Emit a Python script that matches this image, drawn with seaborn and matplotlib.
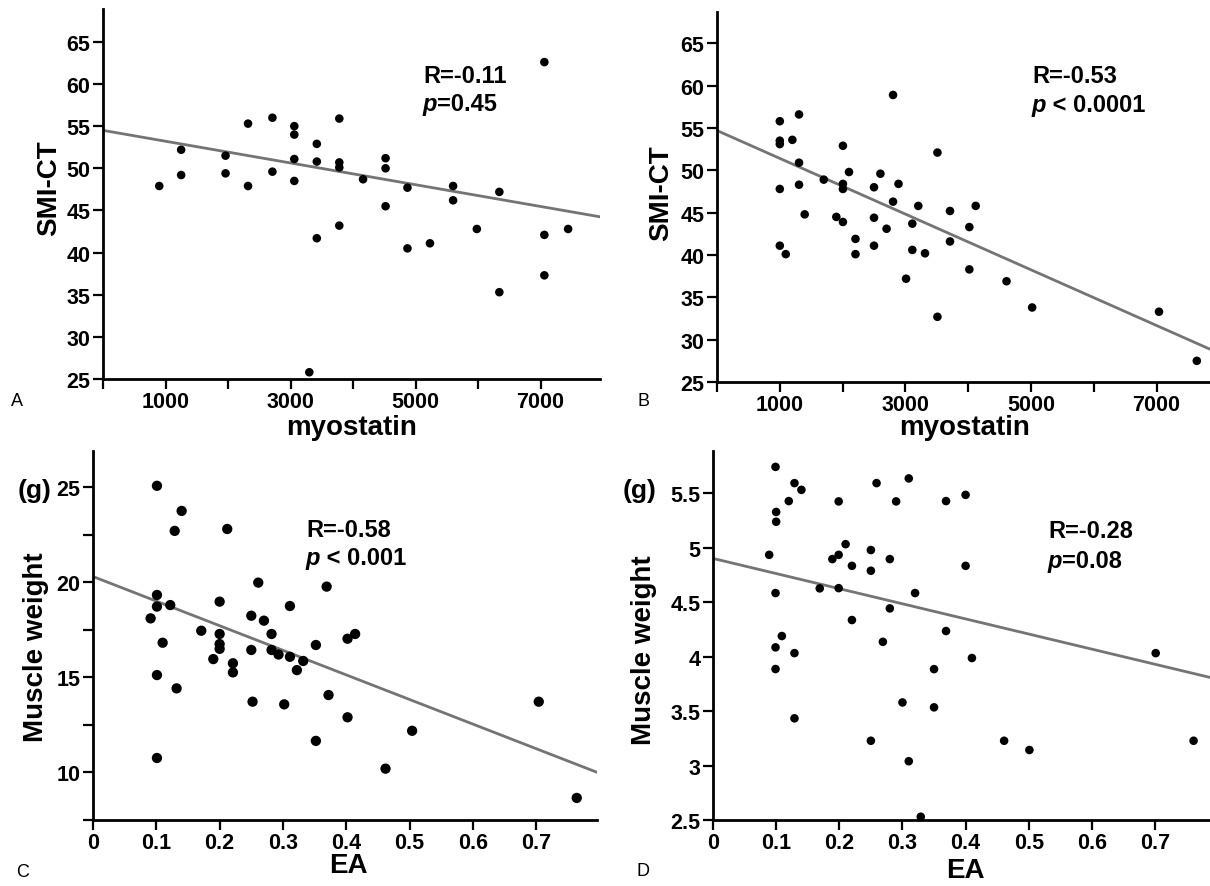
#!/usr/bin/env python3
"""
Myostatin / EA correlation panels (A-D)
Scatter of measured values with the published fit line and R / p annotation
"""

import matplotlib
matplotlib.use("Agg")
import matplotlib.pyplot as plt
from matplotlib.text import Annotation
import seaborn as sns

W, H = 1210, 887

# --- Panel A: myostatin vs SMI-CT (group 1) ---
a_myostatin = [900, 1250, 1250, 1960, 1960, 2320, 2320, 2710, 2710,
               3060, 3060, 3060, 3060, 3300, 3420, 3420, 3420,
               3780, 3780, 3780, 3780, 4160, 4520, 4520, 4520,
               4870, 4870, 5230, 5600, 5600, 5980, 6340, 6340,
               7060, 7060, 7060, 7440]
a_smi = [47.9, 52.2, 49.2, 51.5, 49.4, 55.3, 47.9, 56.0, 49.6,
         55.0, 54.0, 51.1, 48.5, 25.8, 52.9, 50.8, 41.7,
         55.9, 50.7, 50.1, 43.2, 48.7, 51.2, 50.0, 45.5,
         47.7, 40.5, 41.1, 47.9, 46.2, 42.8, 47.2, 35.3,
         62.6, 42.1, 37.3, 42.8]
a_fit = (54.5, -0.00129)          # intercept, slope
a_stats = ("R=-0.11", "=0.45")

# --- Panel B: myostatin vs SMI-CT (group 2) ---
b_myostatin = [1000, 1000, 1000, 1000, 1000, 1095, 1200, 1306, 1306, 1306,
               1396, 1700, 1900, 2005, 2005, 2005, 2005, 2102, 2205, 2205,
               2500, 2500, 2500, 2602, 2700, 2803, 2803, 2890, 3010,
               3110, 3110, 3205, 3312, 3510, 3510, 3710, 3710,
               4018, 4018, 4119, 4610, 5018, 7038, 7640]
b_smi = [55.8, 53.5, 53.1, 47.8, 41.1, 40.1, 53.6, 56.6, 50.9, 48.3,
         44.8, 48.9, 44.5, 52.9, 48.4, 47.8, 43.9, 49.8, 41.9, 40.1,
         48.0, 44.4, 41.1, 49.6, 43.1, 58.9, 46.3, 48.4, 37.2,
         43.7, 40.6, 45.8, 40.2, 52.1, 32.7, 45.2, 41.6,
         43.3, 38.3, 45.8, 36.9, 33.8, 33.3, 27.5]
b_fit = (54.7, -0.00329)
b_stats = ("R=-0.53", " < 0.0001")

# --- Panel C: EA vs muscle weight (group 1) ---
c_ea = [0.101, 0.140, 0.129, 0.212, 0.261, 0.101, 0.101, 0.122, 0.091, 0.200,
        0.311, 0.250, 0.270, 0.171, 0.200, 0.282, 0.200, 0.200, 0.110, 0.250,
        0.282, 0.293, 0.311, 0.190, 0.221, 0.221, 0.322, 0.332, 0.101, 0.132,
        0.252, 0.302, 0.101, 0.369, 0.352, 0.402, 0.414, 0.372, 0.402, 0.352,
        0.462, 0.504, 0.704, 0.764]
c_weight = [25.07, 23.75, 22.7, 22.8, 19.98, 19.33, 18.72, 18.8, 18.1, 18.98,
            18.75, 18.24, 17.98, 17.45, 17.28, 17.28, 16.75, 16.5, 16.82, 16.44,
            16.44, 16.2, 16.08, 15.96, 15.74, 15.26, 15.38, 15.86, 15.12, 14.42,
            13.72, 13.58, 10.76, 19.77, 16.7, 17.03, 17.28, 14.07, 12.9, 11.66,
            10.2, 12.19, 13.72, 8.66]
c_fit = (20.3, -12.93)
c_stats = ("R=-0.58", " < 0.001")

# --- Panel D: EA vs muscle weight (group 2) ---
d_ea = [0.099, 0.100, 0.100, 0.120, 0.129, 0.140, 0.089, 0.099, 0.109, 0.099,
        0.099, 0.129, 0.129, 0.169, 0.199, 0.189, 0.199, 0.210, 0.220, 0.199,
        0.220, 0.250, 0.250, 0.259, 0.280, 0.280, 0.269, 0.250, 0.290, 0.310,
        0.369, 0.400, 0.400, 0.320, 0.369, 0.410, 0.350, 0.300, 0.350, 0.310,
        0.329, 0.461, 0.501, 0.701, 0.761]
d_weight = [5.744, 5.33, 5.24, 5.43, 5.595, 5.533, 4.936, 4.585, 4.19, 4.086,
            3.887, 4.033, 3.434, 4.628, 5.427, 4.897, 4.936, 5.034, 4.835, 4.63,
            4.337, 4.98, 4.79, 5.595, 4.897, 4.444, 4.137, 3.228, 5.427, 5.638,
            5.43, 5.487, 4.835, 4.585, 4.236, 3.988, 3.886, 3.58, 3.535, 3.04,
            2.53, 3.228, 3.143, 4.033, 3.228]
d_fit = (4.903, -1.389)
d_stats = ("R=-0.28", "=0.08")

myo_ticks = [0, 1000, 2000, 3000, 4000, 5000, 6000, 7000]
myo_labels = ["", "1000", "", "3000", "", "5000", "", "7000"]
smi_ticks = [25, 30, 35, 40, 45, 50, 55, 60, 65]
smi_labels = ["25", "30", "35", "40", "45", "50", "55", "60", "65"]
ea_ticks = [0, 0.1, 0.2, 0.3, 0.4, 0.5, 0.6, 0.7]
ea_labels = ["0", "0.1", "0.2", "0.3", "0.4", "0.5", "0.6", "0.7"]
c_yticks = [7.5, 10, 12.5, 15, 17.5, 20, 22.5, 25]
c_ylabels = ["", "10", "", "15", "", "20", "", "25"]
d_yticks = [2.5, 3, 3.5, 4, 4.5, 5, 5.5]
d_ylabels = ["2.5", "3", "3.5", "4", "4.5", "5", "5.5"]


def fig_xy(x, y):
    """Convert reference pixel position to figure fraction"""
    return x / W, 1 - y / H


def axes_rect(left, top, right, bottom):
    """Axes rectangle from pixel edges"""
    return [left / W, 1 - bottom / H, (right - left) / W, (bottom - top) / H]


def draw_panel(fig, rect, x, y, fit, xlim, ylim, xticks, xlabels, yticks, ylabels,
               dot_size=38):
    """One scatter panel with fit line"""
    ax = fig.add_axes(rect)
    ax.set_xlim(*xlim)
    ax.set_ylim(*ylim)
    ax.axline((0, fit[0]), slope=fit[1], color="#747474", lw=2.0, zorder=2)
    sns.scatterplot(x=x, y=y, ax=ax, color="black", s=dot_size,
                    edgecolor="none", linewidth=0, zorder=3, legend=False)
    ax.set_xticks(xticks)
    ax.set_xticklabels(xlabels)
    ax.set_yticks(yticks)
    ax.set_yticklabels(ylabels)
    ax.set_xlabel("")
    ax.set_ylabel("")
    ax.tick_params(direction="out", length=7, width=1.6, color="black",
                   labelcolor="black", labelsize=15.5, pad=2)
    sns.despine(ax=ax)
    for side in ["left", "bottom"]:
        ax.spines[side].set_linewidth(2.0)
        ax.spines[side].set_color("black")
    ax.patch.set_alpha(0)
    return ax


def add_stats(fig, x, y_r, y_p, r_text, p_rest):
    """R line plus italic p line"""
    fig.text(*fig_xy(x, y_r), r_text, fontsize=17, fontweight="bold", va="baseline")
    p = fig.text(*fig_xy(x, y_p), "p", fontsize=17, fontweight="bold",
                 style="italic", va="baseline")
    # rest of the p line starts right after the italic p
    fig.add_artist(Annotation(p_rest, xy=(1, 0), xycoords=p, ha="left", va="bottom",
                              fontsize=17, fontweight="bold"))


def main():
    sns.set_style("ticks")
    plt.rcParams["font.family"] = ["Liberation Sans", "DejaVu Sans"]
    plt.rcParams["font.weight"] = "bold"
    plt.rcParams["text.color"] = "black"

    fig = plt.figure(figsize=(W / 100, H / 100), dpi=100)

    draw_panel(fig, axes_rect(103, 10, 600, 380), a_myostatin, a_smi, a_fit,
               (0, 7950), (25, 68.9), myo_ticks, myo_labels, smi_ticks, smi_labels)
    draw_panel(fig, axes_rect(717, 13, 1210, 383), b_myostatin, b_smi, b_fit,
               (0, 7850), (25, 68.7), myo_ticks, myo_labels, smi_ticks, smi_labels)
    draw_panel(fig, axes_rect(93, 452, 597, 821), c_ea, c_weight, c_fit,
               (0, 0.796), (7.5, 26.9), ea_ticks, ea_labels,
               c_yticks, c_ylabels, dot_size=55)
    draw_panel(fig, axes_rect(713, 452, 1210, 821), d_ea, d_weight, d_fit,
               (0, 0.787), (2.5, 5.89), ea_ticks, ea_labels, d_yticks, d_ylabels)

    # axis titles
    lab = dict(fontsize=20, fontweight="bold", ha="center", va="center")
    fig.text(*fig_xy(352, 428), "myostatin", **lab)
    fig.text(*fig_xy(965, 428), "myostatin", **lab)
    fig.text(*fig_xy(348, 866), "EA", **lab)
    fig.text(*fig_xy(965, 871), "EA", **lab)
    fig.text(*fig_xy(49, 188), "SMI-CT", rotation=90, **lab)
    fig.text(*fig_xy(661, 193), "SMI-CT", rotation=90, **lab)
    fig.text(*fig_xy(36, 647), "Muscle weight", rotation=90, **lab)
    fig.text(*fig_xy(644, 650), "Muscle weight", rotation=90, **lab)
    fig.text(*fig_xy(35, 491), "(g)", fontsize=19, fontweight="bold", ha="center", va="center")
    fig.text(*fig_xy(640, 491), "(g)", fontsize=19, fontweight="bold", ha="center", va="center")

    # panel letters
    let = dict(fontsize=13, fontweight="normal", ha="center", va="center")
    fig.text(*fig_xy(17, 402), "A", **let)
    fig.text(*fig_xy(643, 402), "B", **let)
    fig.text(*fig_xy(23, 873), "C", **let)
    fig.text(*fig_xy(643, 872), "D", **let)

    add_stats(fig, 423, 83, 111, *a_stats)
    add_stats(fig, 1032, 83, 112, *b_stats)
    add_stats(fig, 306, 537, 565, *c_stats)
    add_stats(fig, 1048, 538, 568, *d_stats)

    fig.savefig("out.png", dpi=100)


if __name__ == "__main__":
    main()
